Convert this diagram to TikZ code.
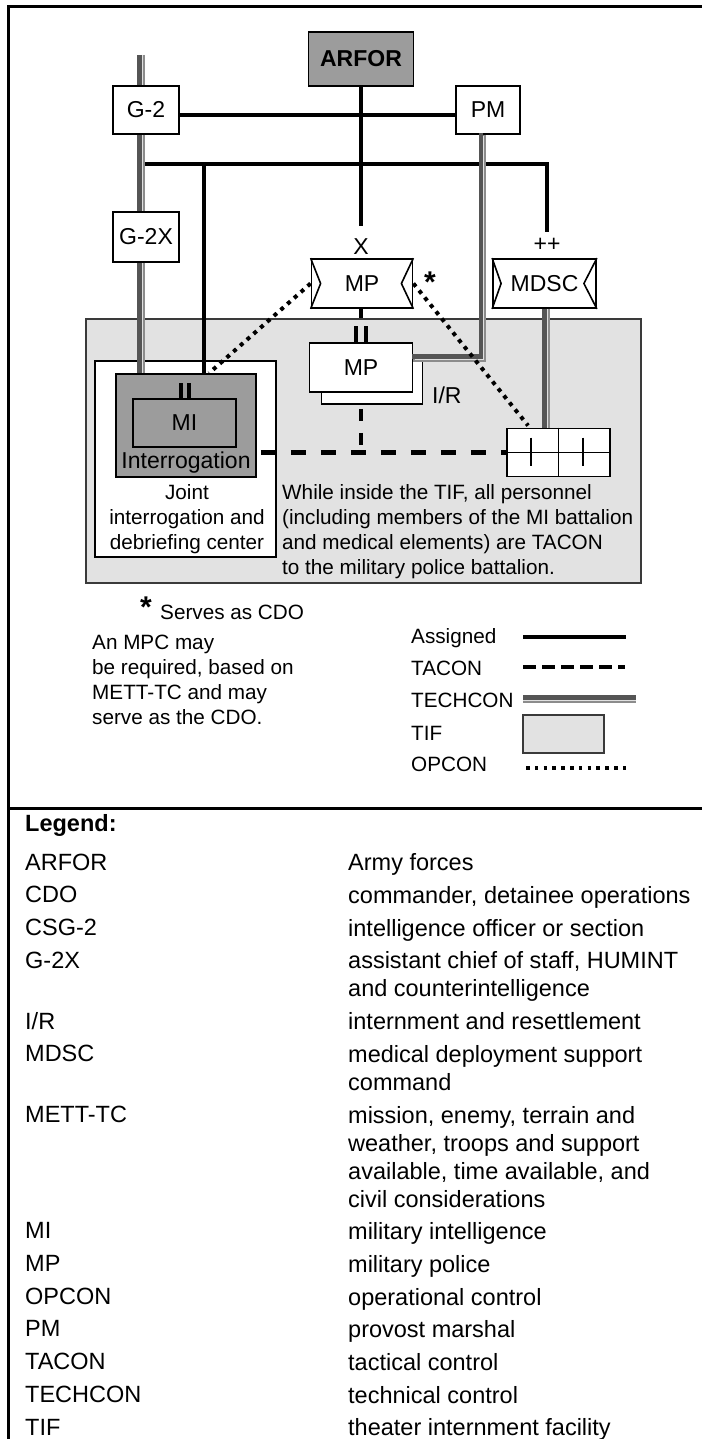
\documentclass[tikz,border=0pt]{standalone}
\usepackage{fontspec}
\setmainfont{Liberation Sans}
\usetikzlibrary{calc}
\definecolor{tifgray}{HTML}{E2E2E2}
\definecolor{boxgray}{HTML}{9C9C9C}
\definecolor{techdark}{HTML}{555555}
\definecolor{techmidc}{HTML}{8C8C8C}
\definecolor{techgapc}{HTML}{E0E0E0}
\definecolor{tifedge}{HTML}{3A3A3A}
\newcommand\fntLeg{\fontsize{23.5bp}{28bp}\selectfont}
\newcommand\fntLbl{\fontsize{23bp}{27bp}\selectfont}
\newcommand\fntSm{\fontsize{20.7bp}{25bp}\selectfont}
\newcommand\fntAst{\bfseries\fontsize{30bp}{30bp}\selectfont}
% a TECHCON line: dark band, thin light gap, thinner gray band
\newcommand\techline[3]{%
  \draw[techmid] #3;
  \draw[techgap,transform canvas={shift={(1.35*#1,1.35*#2)}}] #3;
  \draw[techdk,transform canvas={shift={(-1.5*#1,-1.5*#2)}}] #3;}
\begin{document}
\begin{tikzpicture}[x=1bp,y=-1bp,
  unitbox/.style={draw=black,line width=1.8bp,fill=white,inner sep=0pt,font=\fntLbl},
  areabox/.style={draw=black,line width=1.6bp,inner sep=0pt},
  assigned/.style={line width=4.5bp},
  tacon/.style={line width=4.5bp},
  techmid/.style={draw=techmidc,line width=7.5bp},
  techgap/.style={draw=techgapc,line width=1.2bp},
  techdk/.style={draw=techdark,line width=4.5bp},
  opcon/.style={line width=4bp,dash pattern=on 4bp off 5bp},
  thinline/.style={line width=1.6bp},
  lbl/.style={inner sep=0pt,font=\fntLbl},
  smtext/.style={inner sep=0pt,font=\fntSm,align=left},
  legtext/.style={inner sep=0pt,font=\fntLeg,align=left,anchor=north west},
]
\useasboundingbox (0,0) rectangle (702,1439);
\fill[white] (0,0) rectangle (702,1439);

% frame
\coordinate (fTL) at (8.5,6.5);
\coordinate (fTR) at (702,6.5);
\coordinate (fBL) at (8.5,1439);
\coordinate (dL) at (8.5,808);
\coordinate (dR) at (702,808);
\draw[line width=3bp] (fTR) -- (fTL) -- (fBL);
\draw[line width=3bp] (dL) -- (dR);

% TIF area and boxes inside it
\node[draw=tifedge,fill=tifgray,line width=1.5bp,minimum width=555bp,minimum height=264bp,inner sep=0pt] (tif) at (363.5,451) {};
\node[areabox,fill=white,minimum width=181bp,minimum height=196bp] (jidc) at (185.5,459) {};
\node[unitbox,fill=boxgray,minimum width=140bp,minimum height=103bp] (mio) at (186,425.5) {};
\node[unitbox,fill=boxgray,minimum width=103bp,minimum height=48bp] (mii) at (184.5,423) {MI};
\node[lbl] (interr) at (186,463) {Interrogation};
\node[smtext,align=center,anchor=north] (jtxt) at (187,484) {Joint\\interrogation and\\debriefing center};
\node[smtext,anchor=north west] (note) at (282,484.6) {While inside the TIF, all personnel\\(including members of the MI battalion\\and medical elements) are TACON\\to the military police battalion.};

\node[unitbox,minimum width=101bp,minimum height=49bp] (mpbb) at (372,379.5) {};
\node[unitbox,minimum width=103bp,minimum height=49bp] (mpb) at (361,367.5) {MP};
\node[lbl,anchor=west] (ir) at (432,395) {I/R};

\node[draw=black,fill=white,line width=1.8bp,minimum width=103bp,minimum height=48bp,inner sep=0pt] (grid) at (558.5,452.5) {};
\draw[thinline] (grid.north) -- (grid.south);
\draw[thinline] (grid.west) -- (grid.east);
\draw[thinline] ($(grid.north west)+(25,10)$) -- ($(grid.south west)+(25,-11)$);
\draw[thinline] ($(grid.north west)+(77,10)$) -- ($(grid.south west)+(77,-11)$);

% upper boxes
\node[unitbox,fill=boxgray,font=\bfseries\fntLbl,minimum width=105bp,minimum height=54bp] (arfor) at (361,59) {ARFOR};
\node[unitbox,minimum width=66bp,minimum height=48bp] (g2) at (146,110) {G-2};
\node[unitbox,minimum width=64bp,minimum height=48bp] (pm) at (488,110) {PM};
\node[unitbox,minimum width=66bp,minimum height=50bp] (g2x) at (146,237) {G-2X};
\node[unitbox,minimum width=101bp,minimum height=49bp] (mpa) at (362,283.5) {MP};
\node[unitbox,minimum width=103bp,minimum height=49bp] (mdsc) at (544.5,283.5) {MDSC};
\draw[thinline] (mpa.north west) -- ($(mpa.west)+(10,0)$) -- (mpa.south west);
\draw[thinline] (mpa.north east) -- ($(mpa.east)+(-12,0)$) -- (mpa.south east);
\draw[thinline] (mdsc.north west) -- ($(mdsc.west)+(9,0)$) -- (mdsc.south west);
\draw[thinline] (mdsc.north east) -- ($(mdsc.east)+(-13,0)$) -- (mdsc.south east);

\node[lbl] (xl) at (361,247) {X};
\node[lbl] (ppl) at (547,245) {++};
\node[inner sep=0pt,font=\fntAst] (ast) at (430,282) {*};

% assigned lines
\coordinate (arfEnd) at (361,226);
\draw[assigned] (arfor.south) -- (arfEnd);
\draw[assigned] ($(g2.east)+(0,5)$) -- ($(pm.west)+(0,5)$);
\coordinate (busL) at (141,164);
\coordinate (busM) at (204,164);
\coordinate (busR) at (547,164);
\coordinate (ppEnd) at (547,232);
\draw[assigned] (busL) -- (busR) -- (ppEnd);
\draw[assigned] (busM) -- (busM |- mio.north);
\draw[assigned] (mpa.south -| mpb.north) -- (mpb.north |- tif.north);
\draw[line width=4bp] ($(mpb.north)+(-5,0)$) -- ++(0,-16);
\draw[line width=4bp] ($(mpb.north)+(5,0)$) -- ++(0,-16);
\draw[line width=4bp] ($(mii.north)+(-4,0)$) -- ++(0,-15);
\draw[line width=4bp] ($(mii.north)+(4,0)$) -- ++(0,-15);

% techcon lines
\coordinate (g2top) at (141,55);
\techline{1}{0}{(g2top) -- (g2top |- g2.north)}
\techline{1}{0}{(g2top |- g2.south) -- (g2top |- g2x.north)}
\techline{1}{0}{(g2top |- g2x.south) -- (g2top |- mio.north)}
\coordinate (pmCorner) at (482.5,358);
\techline{1}{1}{(pm.south -| pmCorner) -- (pmCorner) -- (pmCorner -| mpb.east)}
\coordinate (mdscBot) at ($(mdsc.south)+(1.5,0)$);
\techline{1}{0}{(mdscBot) -- (mdscBot |- grid.north)}

% tacon lines
\coordinate (tacJ) at (361,452.5);
\draw[tacon,dash pattern=on 12bp off 12bp,dash phase=20bp] (mpbb.south -| tacJ) -- (tacJ);
\draw[tacon,dash pattern=on 15bp off 15bp,dash phase=26bp] (mio.east |- tacJ) -- (grid.west);

% opcon lines
\coordinate (opA) at ($(mio.north west)+(94,0)$);
\coordinate (opB) at ($(grid.north west)+(22,-2)$);
\draw[opcon] (mpa.west) -- (opA);
\draw[opcon] (mpa.east) -- (opB);

% notes under the diagram
\node[inner sep=0pt,font=\fntAst] (ast2) at (146,607) {*};
\node[smtext,anchor=west] (serves) at (160,612) {Serves as CDO};
\node[smtext,anchor=north west] (mpc) at (92,634.6) {An MPC may\\be required, based on\\METT-TC and may\\serve as the CDO.};

% line legend
\node[smtext,anchor=base west] (kAs) at (411,643.4) {Assigned};
\node[smtext,anchor=base west] (kTa) at (411,675.4) {TACON};
\node[smtext,anchor=base west] (kTe) at (411,707.4) {TECHCON};
\node[smtext,anchor=base west] (kTi) at (411,740.4) {TIF};
\node[smtext,anchor=base west] (kOp) at (411,771.4) {OPCON};
\coordinate (lAs1) at (523,637); \coordinate (lAs2) at (626,637);
\draw[assigned] (lAs1) -- (lAs2);
\coordinate (lTa1) at (523,667); \coordinate (lTa2) at (625,667);
\draw[tacon,dash pattern=on 12.5bp off 6.5bp] (lTa1) -- (lTa2);
\coordinate (lTe1) at (523,699); \coordinate (lTe2) at (636,699);
\techline{0}{1}{(lTe1) -- (lTe2)}
\node[draw=tifedge,fill=tifgray,line width=1.8bp,minimum width=81bp,minimum height=38bp,inner sep=0pt] (lTi) at (563.5,734) {};
\coordinate (lOp1) at (526,768); \coordinate (lOp2) at (631,768);
\draw[line width=4bp,dash pattern=on 3.5bp off 5.3bp] (lOp1) -- (lOp2);

% glossary
\node[legtext,font=\bfseries\fntLeg] (gh) at (25,814.6) {Legend:};
\node[legtext] (g1a) at (25,853.6) {ARFOR};
\node[legtext] (g1b) at (348,853.6) {Army forces};
\node[legtext] (g2a) at (25,886.3) {CDO};
\node[legtext] (g2b) at (348,886.3) {commander, detainee operations};
\node[legtext] (g3a) at (25,919) {CSG-2};
\node[legtext] (g3b) at (348,919) {intelligence officer or section};
\node[legtext] (g4a) at (25,951.6) {G-2X};
\node[legtext] (g4b) at (348,951.6) {assistant chief of staff, HUMINT\\and counterintelligence};
\node[legtext] (g5a) at (25,1012.4) {I/R};
\node[legtext] (g5b) at (348,1012.4) {internment and resettlement};
\node[legtext] (g6a) at (25,1045.1) {MDSC};
\node[legtext] (g6b) at (348,1045.1) {medical deployment support\\command};
\node[legtext] (g7a) at (25,1105.8) {METT-TC};
\node[legtext] (g7b) at (348,1105.8) {mission, enemy, terrain and\\weather, troops and support\\available, time available, and\\civil considerations};
\node[legtext] (g8a) at (25,1222.5) {MI};
\node[legtext] (g8b) at (348,1222.5) {military intelligence};
\node[legtext] (g9a) at (25,1255.2) {MP};
\node[legtext] (g9b) at (348,1255.2) {military police};
\node[legtext] (g10a) at (25,1287.9) {OPCON};
\node[legtext] (g10b) at (348,1287.9) {operational control};
\node[legtext] (g11a) at (25,1320.6) {PM};
\node[legtext] (g11b) at (348,1320.6) {provost marshal};
\node[legtext] (g12a) at (25,1353.3) {TACON};
\node[legtext] (g12b) at (348,1353.3) {tactical control};
\node[legtext] (g13a) at (25,1386) {TECHCON};
\node[legtext] (g13b) at (348,1386) {technical control};
\node[legtext] (g14a) at (25,1418.7) {TIF};
\node[legtext] (g14b) at (348,1418.7) {theater internment facility};
\end{tikzpicture}
\end{document}
